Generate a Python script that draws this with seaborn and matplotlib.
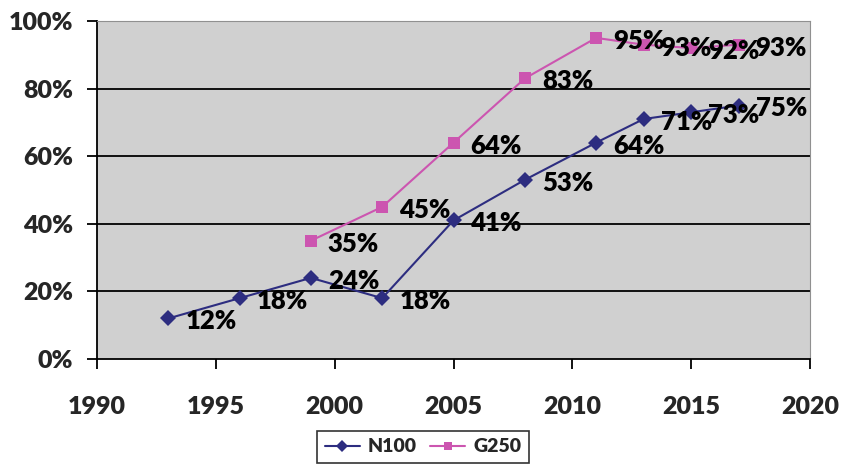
import matplotlib
matplotlib.use("Agg")
import matplotlib.pyplot as plt
import seaborn as sns
import pandas as pd
from matplotlib.ticker import FuncFormatter
from matplotlib.lines import Line2D

n100_years = [1993, 1996, 1999, 2002, 2005, 2008, 2011, 2013, 2015, 2017]
n100_vals = [12, 18, 24, 18, 41, 53, 64, 71, 73, 75]
g250_years = [1999, 2002, 2005, 2008, 2011, 2013, 2015, 2017]
g250_vals = [35, 45, 64, 83, 95, 93, 92, 93]
series_names = ["N100", "G250"]
x_ticks = [1990, 1995, 2000, 2005, 2010, 2015, 2020]
y_ticks = [0, 20, 40, 60, 80, 100]

sns.set_style("white")
plt.rcParams['font.family'] = ['Lato', 'DejaVu Sans']
W = "heavy"

df = pd.concat([
    pd.DataFrame({"year": n100_years, "val": n100_vals, "series": "N100"}),
    pd.DataFrame({"year": g250_years, "val": g250_vals, "series": "G250"}),
])

colors = {"N100": "#2D2D80", "G250": "#CC55B0"}
markers = {"N100": "D", "G250": "s"}

fig = plt.figure(figsize=(8.41, 4.71), dpi=100)
ax = fig.add_axes([97/841, 1-359/471, (810-97)/841, (359-21)/471])
ax.set_facecolor("#D0D0D0")

sns.lineplot(data=df, x="year", y="val", hue="series", style="series",
             palette=colors, markers=markers, dashes=False, ax=ax,
             linewidth=1.5, markersize=8.5, markeredgewidth=0, legend=False,
             hue_order=series_names, style_order=series_names)

for yrs, vals in [(n100_years, n100_vals), (g250_years, g250_vals)]:
    for x, v in zip(yrs, vals):
        ax.annotate(f"{v}%", (x, v), xytext=(17, -3), textcoords="offset pixels",
                    ha="left", va="center", fontsize=18.5, fontweight=W,
                    color="black")

ax.set_xlim(1990, 2020)
ax.set_ylim(0, 100)
ax.set_xticks(x_ticks)
ax.set_yticks(y_ticks)
ax.yaxis.set_major_formatter(FuncFormatter(lambda v, p: f"{int(v)}%"))
for y in y_ticks[1:-1]:
    ax.axhline(y, color="black", linewidth=1.3, zorder=0.5)
ax.set_xlabel("")
ax.set_ylabel("")
ax.tick_params(axis="both", which="major", direction="out", length=7, width=1.3,
               color="black", labelsize=18, bottom=True, left=True)
ax.tick_params(axis="x", pad=20)
ax.tick_params(axis="y", pad=10)
for lab in ax.get_xticklabels() + ax.get_yticklabels():
    lab.set_fontweight(W)
ax.spines["left"].set_color("black")
ax.spines["bottom"].set_color("black")
ax.spines["left"].set_linewidth(1.3)
ax.spines["bottom"].set_linewidth(1.3)
ax.spines["top"].set_color("#909090")
ax.spines["right"].set_color("#909090")

handles = [Line2D([], [], color=colors[s], marker=markers[s], markersize=6,
                  linewidth=1.5, markeredgewidth=0) for s in series_names]
leg = fig.legend(handles, series_names, loc="center", bbox_to_anchor=(423/841, 1-447/471),
                 ncol=2, frameon=True, fancybox=False, edgecolor="black",
                 prop={"weight": W, "size": 14}, handlelength=1.8,
                 columnspacing=0.7, handletextpad=0.4, borderpad=0.4)
leg.get_frame().set_linewidth(1.2)

fig.savefig("out.png", dpi=100, facecolor="white")
